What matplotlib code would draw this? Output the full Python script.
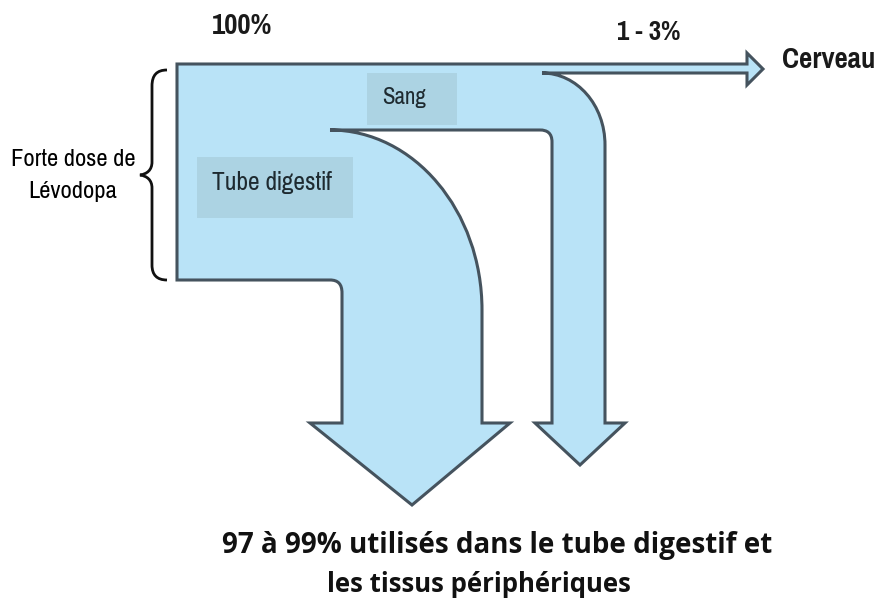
import matplotlib.pyplot as plt
from matplotlib.path import Path
from matplotlib.patches import PathPatch, Rectangle

# labels of the diagram
compartments = ["Tube digestif", "Sang"]
target = "Cerveau"
dose_label = ["Forte dose de", "Lévodopa"]
shares = ["100%", "1 - 3%"]
loss_label = ["97 à 99% utilisés dans le tube digestif et", "les tissus périphériques"]

FILL = "#b9e3f7"
BOX = "#acd3e3"
EDGE = "#45535e"
NARROW = ["Pragati Narrow", "Archivo Narrow", "Liberation Sans"]
BOLD = ["Open Sans", "DejaVu Sans"]

fig = plt.figure(figsize=(8.8, 6.08), dpi=100)
ax = fig.add_axes([0, 0, 1, 1])
ax.set_xlim(0, 880)
ax.set_ylim(608, 0)
ax.axis("off")

M, L, C = Path.MOVETO, Path.LINETO, Path.CURVE4
flow = [
    (M, (177, 64)), (L, (747, 64)), (L, (747, 53)), (L, (763, 69)),
    (L, (747, 85)), (L, (747, 73)), (L, (542, 73)),
    (C, (577, 73)), (C, (605, 105)), (C, (605, 145)),
    (L, (605, 423)), (L, (625, 423)), (L, (580, 465)), (L, (535, 423)),
    (L, (552, 423)), (L, (552, 142)),
    (C, (552, 133)), (C, (547, 130)), (C, (540, 130)),
    (L, (330, 130)),
    (C, (414, 130)), (C, (482, 211)), (C, (482, 310)),
    (L, (482, 423)), (L, (510, 423)), (L, (412, 505)), (L, (310, 423)),
    (L, (342, 423)), (L, (342, 293)),
    (C, (342, 284)), (C, (338, 280)), (C, (330, 280)),
    (L, (177, 280)), (Path.CLOSEPOLY, (177, 64)),
]
codes, verts = zip(*flow)
ax.add_patch(PathPatch(Path(verts, codes), facecolor=FILL, edgecolor=EDGE,
                       lw=2.2, joinstyle="miter", zorder=1))

# label boxes
ax.add_patch(Rectangle((197, 157), 156, 61, facecolor=BOX, edgecolor="none", zorder=2))
ax.add_patch(Rectangle((367, 73), 90, 52, facecolor=BOX, edgecolor="none", zorder=2))
ax.text(272, 183, compartments[0], family=NARROW, fontsize=20, ha="center",
        va="center", color="#1e2a30", zorder=3)
ax.text(404, 98, compartments[1], family=NARROW, fontsize=18, ha="center",
        va="center", color="#1e2a30", zorder=3)

# brace
brace = [
    (M, (167, 70)), (C, (157, 70)), (C, (152, 75)), (C, (152, 86)),
    (L, (152, 162)), (C, (152, 170)), (C, (147, 174)), (C, (140, 175)),
    (C, (147, 176)), (C, (152, 180)), (C, (152, 188)),
    (L, (152, 265)), (C, (152, 275)), (C, (157, 280)), (C, (167, 280)),
]
codes, verts = zip(*brace)
ax.add_patch(PathPatch(Path(verts, codes), facecolor="none", edgecolor="#111111", lw=2))

ax.text(73, 160, dose_label[0], family=NARROW, fontsize=19.3, ha="center", va="center")
ax.text(73, 192, dose_label[1], family=NARROW, fontsize=19.3, ha="center", va="center")

ax.text(242, 26, shares[0], family=NARROW, fontsize=22.5, ha="center", va="center",
        weight="bold", color="#1a1a1a")
ax.text(649, 33, shares[1], family=NARROW, fontsize=21, ha="center", va="center",
        weight="bold", color="#1a1a1a")
ax.text(782, 60, target, family=NARROW, fontsize=22.5, ha="left", va="center",
        weight="bold", color="#1a1a1a")

ax.text(497, 546, loss_label[0], family=BOLD, fontsize=20, ha="center", va="center",
        weight="bold", color="#111111")
ax.text(479, 584, loss_label[1], family=BOLD, fontsize=18.5, ha="center", va="center",
        weight="bold", color="#111111")

fig.savefig("out.png", dpi=100)
